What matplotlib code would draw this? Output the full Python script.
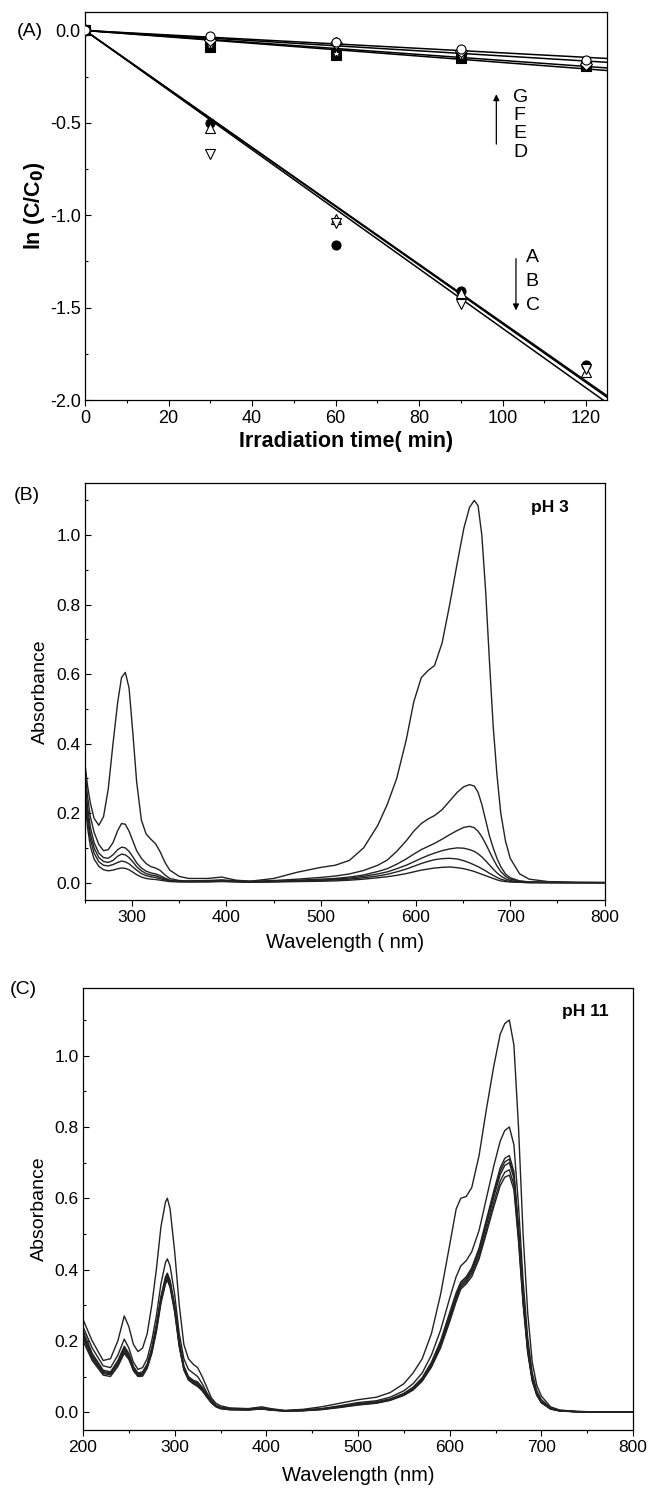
import numpy as np
import matplotlib
matplotlib.use("Agg")
import matplotlib.pyplot as plt
from matplotlib.ticker import MultipleLocator, FormatStrFormatter

plt.rcParams["font.family"] = ["Liberation Sans", "DejaVu Sans"]

# --------------------------------------------------
# (A) kinetics: ln(C/C0) vs irradiation time
# --------------------------------------------------
time_min = [0, 30, 60, 90, 120]
series_labels = ["A", "B", "C", "D", "E", "F", "G"]
lnc_a = [0, -0.50, -1.16, -1.41, -1.81]
lnc_b = [0, -0.53, -1.02, -1.42, -1.85]
lnc_c = [0, -0.67, -1.04, -1.48, -1.83]
lnc_d = [0, -0.09, -0.13, -0.15, -0.19]
lnc_e = [0, -0.08, -0.12, -0.14, -0.18]
lnc_f = [0, -0.05, -0.07, -0.11, -0.18]
lnc_g = [0, -0.03, -0.06, -0.10, -0.16]

# --------------------------------------------------
# (B) pH 3 spectra
# --------------------------------------------------
wl_b = [250, 253, 256, 260, 265, 270, 275, 280, 285, 289, 293, 297, 301, 305, 310,
        315, 320, 325, 330, 335, 340, 350, 360, 380, 395, 410, 425, 450, 475, 500,
        515, 530, 545, 560, 570, 580, 590, 598, 606, 613, 620, 628, 636, 644, 651,
        657, 662, 666, 670, 674, 678, 682, 686, 690, 695, 700, 710, 720, 740, 770, 800]
abs_b1 = [0.35, 0.28, 0.23, 0.185, 0.165, 0.19, 0.27, 0.40, 0.52, 0.59, 0.605, 0.56, 0.43, 0.29, 0.18,
          0.14, 0.125, 0.112, 0.088, 0.058, 0.036, 0.018, 0.012, 0.012, 0.016, 0.007, 0.004, 0.012, 0.03, 0.044,
          0.05, 0.064, 0.10, 0.165, 0.225, 0.30, 0.41, 0.52, 0.59, 0.61, 0.625, 0.69, 0.80, 0.92, 1.02,
          1.08, 1.10, 1.085, 1.00, 0.84, 0.64, 0.45, 0.31, 0.20, 0.12, 0.07, 0.025, 0.01, 0.003, 0.001, 0.0]
abs_b2 = [0.33, 0.25, 0.19, 0.145, 0.11, 0.092, 0.095, 0.115, 0.15, 0.17, 0.168, 0.148, 0.12, 0.092, 0.07,
          0.055, 0.046, 0.042, 0.035, 0.022, 0.012, 0.006, 0.005, 0.006, 0.008, 0.005, 0.004, 0.006, 0.01, 0.015,
          0.019, 0.025, 0.035, 0.05, 0.065, 0.09, 0.12, 0.148, 0.17, 0.183, 0.193, 0.21, 0.235, 0.26, 0.276,
          0.282, 0.278, 0.26, 0.225, 0.18, 0.135, 0.10, 0.07, 0.046, 0.025, 0.014, 0.005, 0.002, 0.001, 0.0, 0.0]
abs_b3 = [0.31, 0.22, 0.16, 0.115, 0.085, 0.072, 0.07, 0.08, 0.095, 0.102, 0.10, 0.09, 0.074, 0.057, 0.042,
          0.033, 0.028, 0.025, 0.02, 0.013, 0.007, 0.004, 0.004, 0.005, 0.006, 0.004, 0.003, 0.004, 0.007, 0.01,
          0.012, 0.016, 0.022, 0.032, 0.04, 0.053, 0.068, 0.082, 0.095, 0.104, 0.113, 0.125, 0.138, 0.15, 0.159,
          0.162, 0.158, 0.148, 0.132, 0.112, 0.09, 0.068, 0.048, 0.032, 0.018, 0.01, 0.004, 0.002, 0.001, 0.0, 0.0]
abs_b4 = [0.29, 0.20, 0.14, 0.10, 0.072, 0.061, 0.058, 0.064, 0.076, 0.082, 0.08, 0.072, 0.06, 0.046, 0.034,
          0.026, 0.022, 0.02, 0.015, 0.01, 0.006, 0.004, 0.003, 0.004, 0.005, 0.003, 0.002, 0.003, 0.005, 0.008,
          0.01, 0.013, 0.018, 0.025, 0.031, 0.04, 0.05, 0.06, 0.07, 0.078, 0.085, 0.092, 0.097, 0.10, 0.099,
          0.095, 0.09, 0.083, 0.074, 0.063, 0.051, 0.039, 0.028, 0.019, 0.011, 0.006, 0.002, 0.001, 0.0, 0.0, 0.0]
abs_b5 = [0.27, 0.18, 0.125, 0.085, 0.06, 0.05, 0.048, 0.052, 0.058, 0.062, 0.06, 0.054, 0.045, 0.036, 0.026,
          0.02, 0.017, 0.015, 0.011, 0.008, 0.005, 0.003, 0.003, 0.003, 0.004, 0.003, 0.002, 0.003, 0.004, 0.006,
          0.008, 0.01, 0.014, 0.019, 0.024, 0.031, 0.039, 0.047, 0.055, 0.061, 0.066, 0.069, 0.07, 0.068, 0.063,
          0.057, 0.051, 0.046, 0.04, 0.034, 0.027, 0.021, 0.015, 0.01, 0.006, 0.003, 0.001, 0.0, 0.0, 0.0, 0.0]
abs_b6 = [0.25, 0.16, 0.105, 0.068, 0.047, 0.037, 0.034, 0.036, 0.04, 0.042, 0.041, 0.037, 0.03, 0.023, 0.016,
          0.012, 0.01, 0.009, 0.007, 0.005, 0.003, 0.002, 0.002, 0.002, 0.003, 0.002, 0.001, 0.002, 0.003, 0.004,
          0.005, 0.007, 0.01, 0.014, 0.017, 0.021, 0.026, 0.031, 0.036, 0.039, 0.042, 0.044, 0.045, 0.043, 0.04,
          0.036, 0.032, 0.028, 0.024, 0.02, 0.016, 0.012, 0.008, 0.005, 0.003, 0.002, 0.001, 0.0, 0.0, 0.0, 0.0]

# --------------------------------------------------
# (C) pH 11 spectra
# --------------------------------------------------
wl_c = [200, 210, 222, 230, 238, 245, 250, 255, 260, 265, 270, 275, 280, 285, 290, 292, 295,
        300, 305, 310, 315, 320, 325, 330, 335, 340, 345, 350, 360, 380, 395, 405, 420, 440,
        460, 480, 500, 520, 535, 550, 560, 570, 580, 590, 600, 607, 612, 618, 624, 632, 640,
        648, 655, 660, 665, 670, 675, 680, 685, 690, 695, 700, 710, 720, 740, 770, 800]
abs_c1 = [0.26, 0.20, 0.145, 0.15, 0.20, 0.27, 0.24, 0.19, 0.17, 0.18, 0.22, 0.30, 0.40, 0.52, 0.59, 0.60, 0.57,
          0.45, 0.30, 0.19, 0.15, 0.135, 0.125, 0.10, 0.07, 0.04, 0.025, 0.018, 0.012, 0.01, 0.015, 0.01, 0.005, 0.008,
          0.015, 0.025, 0.035, 0.042, 0.055, 0.08, 0.11, 0.15, 0.22, 0.33, 0.47, 0.57, 0.60, 0.605, 0.63, 0.72, 0.85,
          0.97, 1.06, 1.09, 1.10, 1.03, 0.80, 0.50, 0.28, 0.14, 0.075, 0.045, 0.015, 0.006, 0.002, 0.0, 0.0]
abs_c2 = [0.24, 0.18, 0.13, 0.125, 0.16, 0.205, 0.18, 0.14, 0.12, 0.125, 0.15, 0.20, 0.27, 0.36, 0.42, 0.43, 0.41,
          0.33, 0.22, 0.15, 0.12, 0.11, 0.10, 0.08, 0.055, 0.035, 0.02, 0.014, 0.01, 0.009, 0.012, 0.008, 0.004, 0.006,
          0.01, 0.018, 0.027, 0.032, 0.042, 0.06, 0.08, 0.11, 0.16, 0.23, 0.32, 0.38, 0.41, 0.425, 0.45, 0.51, 0.60,
          0.69, 0.76, 0.79, 0.80, 0.75, 0.58, 0.37, 0.21, 0.11, 0.06, 0.035, 0.012, 0.005, 0.002, 0.0, 0.0]
abs_c3 = [0.23, 0.165, 0.118, 0.113, 0.145, 0.185, 0.165, 0.128, 0.11, 0.113, 0.135, 0.18, 0.245, 0.325, 0.38, 0.39, 0.37,
          0.30, 0.20, 0.13, 0.10, 0.09, 0.085, 0.07, 0.05, 0.03, 0.018, 0.012, 0.009, 0.008, 0.011, 0.007, 0.004, 0.005,
          0.009, 0.016, 0.024, 0.029, 0.037, 0.053, 0.07, 0.097, 0.14, 0.20, 0.28, 0.335, 0.365, 0.38, 0.405, 0.46, 0.54,
          0.62, 0.685, 0.712, 0.72, 0.675, 0.52, 0.33, 0.185, 0.095, 0.052, 0.03, 0.01, 0.004, 0.001, 0.0, 0.0]
abs_c4 = [0.22, 0.16, 0.114, 0.11, 0.14, 0.18, 0.16, 0.125, 0.108, 0.11, 0.132, 0.176, 0.24, 0.32, 0.375, 0.385, 0.365,
          0.295, 0.195, 0.127, 0.097, 0.087, 0.082, 0.068, 0.048, 0.029, 0.017, 0.011, 0.008, 0.007, 0.01, 0.007, 0.004, 0.005,
          0.009, 0.015, 0.023, 0.028, 0.036, 0.051, 0.068, 0.094, 0.136, 0.195, 0.272, 0.328, 0.36, 0.375, 0.40, 0.455, 0.533,
          0.612, 0.676, 0.702, 0.71, 0.665, 0.51, 0.325, 0.18, 0.093, 0.05, 0.029, 0.01, 0.004, 0.001, 0.0, 0.0]
abs_c5 = [0.215, 0.155, 0.111, 0.108, 0.137, 0.175, 0.156, 0.122, 0.105, 0.107, 0.129, 0.172, 0.235, 0.315, 0.37, 0.38, 0.36,
          0.29, 0.19, 0.124, 0.095, 0.085, 0.078, 0.065, 0.046, 0.028, 0.016, 0.011, 0.008, 0.007, 0.01, 0.006, 0.004, 0.005,
          0.008, 0.015, 0.022, 0.027, 0.035, 0.05, 0.066, 0.092, 0.133, 0.19, 0.266, 0.322, 0.355, 0.37, 0.395, 0.448, 0.525,
          0.603, 0.666, 0.692, 0.70, 0.656, 0.505, 0.32, 0.178, 0.092, 0.05, 0.028, 0.009, 0.004, 0.001, 0.0, 0.0]
abs_c6 = [0.21, 0.15, 0.108, 0.105, 0.133, 0.17, 0.152, 0.119, 0.102, 0.104, 0.126, 0.168, 0.23, 0.31, 0.365, 0.375, 0.355,
          0.285, 0.187, 0.121, 0.092, 0.082, 0.075, 0.062, 0.044, 0.027, 0.016, 0.01, 0.007, 0.007, 0.009, 0.006, 0.003, 0.004,
          0.008, 0.014, 0.021, 0.026, 0.034, 0.048, 0.064, 0.089, 0.129, 0.185, 0.26, 0.316, 0.35, 0.365, 0.388, 0.438, 0.512,
          0.588, 0.648, 0.673, 0.68, 0.638, 0.49, 0.31, 0.172, 0.089, 0.048, 0.027, 0.009, 0.004, 0.001, 0.0, 0.0]
abs_c7 = [0.20, 0.145, 0.104, 0.10, 0.128, 0.165, 0.148, 0.116, 0.10, 0.101, 0.123, 0.164, 0.225, 0.305, 0.36, 0.37, 0.35,
          0.28, 0.183, 0.118, 0.09, 0.08, 0.072, 0.06, 0.042, 0.026, 0.015, 0.01, 0.007, 0.006, 0.009, 0.006, 0.003, 0.004,
          0.007, 0.013, 0.02, 0.025, 0.033, 0.047, 0.062, 0.087, 0.126, 0.18, 0.254, 0.31, 0.345, 0.36, 0.38, 0.43, 0.502,
          0.576, 0.635, 0.659, 0.665, 0.624, 0.48, 0.303, 0.168, 0.087, 0.047, 0.026, 0.009, 0.003, 0.001, 0.0, 0.0]


def style_axes(ax, size):
    ax.tick_params(axis="y", direction="in", length=4, labelsize=size, width=0.8, pad=3)
    ax.tick_params(axis="y", which="minor", direction="in", length=2.5, width=0.8)
    ax.tick_params(axis="x", direction="out", length=4, labelsize=size, width=0.8, pad=3)
    ax.tick_params(axis="x", which="minor", direction="out", length=2.5, width=0.8)
    ax.yaxis.set_major_formatter(FormatStrFormatter("%.1f"))
    for sp in ax.spines.values():
        sp.set_linewidth(0.9)


fig = plt.figure(figsize=(6.51, 15.01), dpi=100)

# ---------------- panel A ----------------
ax_a = fig.add_axes([0.1306, 0.7335, 0.8018, 0.2585])
kin = [lnc_a, lnc_b, lnc_c, lnc_d, lnc_e, lnc_f, lnc_g]
markers = [
    dict(marker="o", mfc="black", mec="black"),
    dict(marker="^", mfc="white", mec="black"),
    dict(marker="v", mfc="white", mec="black"),
    dict(marker="s", mfc="black", mec="black"),
    dict(marker="*", mfc="white", mec="black"),
    dict(marker="D", mfc="white", mec="black"),
    dict(marker="o", mfc="white", mec="black"),
]
t = np.array(time_min, dtype=float)
t_fit = np.array([0, 125.0])
for y, mk in zip(kin, markers):
    y = np.array(y)
    k = np.sum(t * y) / np.sum(t * t)   # fit through origin
    ax_a.plot(t_fit, k * t_fit, color="black", lw=1.1, zorder=2)
    ax_a.plot(t, y, ls="none", ms=6.5, mew=0.8, zorder=3, **mk)

ax_a.set_xlim(0, 125)
ax_a.set_ylim(-2.0, 0.1)
ax_a.xaxis.set_major_locator(MultipleLocator(20))
ax_a.xaxis.set_minor_locator(MultipleLocator(10))
ax_a.yaxis.set_major_locator(MultipleLocator(0.5))
ax_a.yaxis.set_minor_locator(MultipleLocator(0.25))
style_axes(ax_a, 13)
ax_a.set_xlabel("Irradiation time( min)", fontsize=15.5, fontweight="bold", labelpad=3)
ax_a.set_ylabel("ln (C/C$_\\mathbf{0}$)", fontsize=15.5, fontweight="bold", labelpad=2)

for i, lab in enumerate("GFED"):
    ax_a.text(102.5, -0.36 - 0.1 * i, lab, fontsize=14, ha="left", va="center")
ax_a.annotate("", xy=(98.5, -0.33), xytext=(98.5, -0.63),
              arrowprops=dict(arrowstyle="-|>", color="black", lw=0.9, mutation_scale=9))
for i, lab in enumerate("ABC"):
    ax_a.text(105.5, -1.23 - 0.128 * i, lab, fontsize=14, ha="left", va="center")
ax_a.annotate("", xy=(103.2, -1.53), xytext=(103.2, -1.22),
              arrowprops=dict(arrowstyle="-|>", color="black", lw=0.9, mutation_scale=9))
fig.text(17 / 651, 1 - 31 / 1501, "(A)", fontsize=14, ha="left", va="center")

# ---------------- panel B ----------------
ax_b = fig.add_axes([0.130, 0.4004, 0.799, 0.2778])
for a in [abs_b1, abs_b2, abs_b3, abs_b4, abs_b5, abs_b6]:
    ax_b.plot(wl_b, a, color="#222222", lw=1.0)
ax_b.set_xlim(250, 800)
ax_b.set_ylim(-0.05, 1.15)
ax_b.xaxis.set_major_locator(MultipleLocator(100))
ax_b.xaxis.set_minor_locator(MultipleLocator(50))
ax_b.yaxis.set_major_locator(MultipleLocator(0.2))
ax_b.yaxis.set_minor_locator(MultipleLocator(0.1))
style_axes(ax_b, 12.5)
ax_b.set_xlabel("Wavelength ( nm)", fontsize=14.5, labelpad=6)
ax_b.set_ylabel("Absorbance", fontsize=14, labelpad=5)
ax_b.text(0.895, 0.942, "pH 3", transform=ax_b.transAxes, fontsize=12.5,
          fontweight="bold", ha="center", va="center")
fig.text(14 / 651, 1 - 495 / 1501, "(B)", fontsize=14, ha="left", va="center")

# ---------------- panel C ----------------
ax_c = fig.add_axes([0.1275, 0.0473, 0.845, 0.2945])
for a in [abs_c1, abs_c2, abs_c3, abs_c4, abs_c5, abs_c6, abs_c7]:
    ax_c.plot(wl_c, a, color="#222222", lw=1.0)
ax_c.set_xlim(200, 800)
ax_c.set_ylim(-0.05, 1.19)
ax_c.xaxis.set_major_locator(MultipleLocator(100))
ax_c.xaxis.set_minor_locator(MultipleLocator(50))
ax_c.yaxis.set_major_locator(MultipleLocator(0.2))
ax_c.yaxis.set_minor_locator(MultipleLocator(0.1))
style_axes(ax_c, 12.5)
ax_c.set_xlabel("Wavelength (nm)", fontsize=14.5, labelpad=8)
ax_c.set_ylabel("Absorbance", fontsize=14, labelpad=5)
ax_c.text(0.913, 0.946, "pH 11", transform=ax_c.transAxes, fontsize=12.5,
          fontweight="bold", ha="center", va="center")
fig.text(10 / 651, 1 - 990 / 1501, "(C)", fontsize=14, ha="left", va="center")

fig.savefig("out.png", dpi=100)
